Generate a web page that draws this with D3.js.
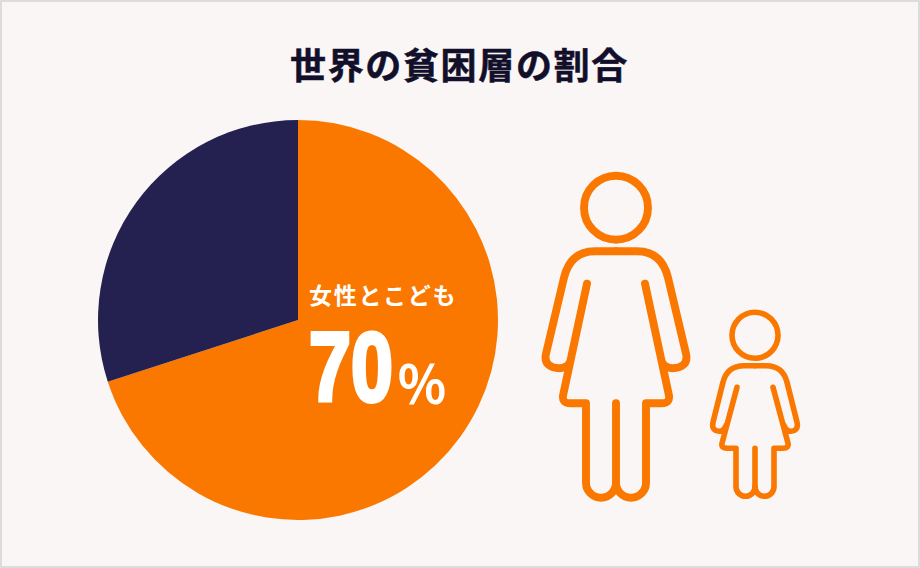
<!DOCTYPE html>
<html lang="ja">
<head>
<meta charset="utf-8">
<script src="https://cdn.jsdelivr.net/npm/d3@7"></script>
<style>
html,body{margin:0;padding:0;background:#faf6f5;}
svg{display:block;}
text{font-family:"Noto Sans CJK JP","Noto Sans",sans-serif;}
</style>
</head>
<body>
<script>
const titleText = "世界の貧困層の割合";
const categories = ["女性とこども", "その他"];
const shares = [70, 30];
const colors = ["#fa7800", "#24204f"];
const calloutNumber = "70";
const calloutUnit = "%";

const W = 920, H = 568;
const svg = d3.select("body").append("svg").attr("width", W).attr("height", H);

svg.append("rect").attr("x", 1).attr("y", 1).attr("width", W - 2).attr("height", H - 2)
  .attr("fill", "#faf6f5").attr("stroke", "#dcdcdc").attr("stroke-width", 2);

svg.append("text").attr("x", 290).attr("y", 79).attr("font-size", 36).attr("font-weight", 700)
  .attr("letter-spacing", 1.65).attr("fill", "#120f2b").attr("stroke", "#120f2b").attr("stroke-width", 0.5)
  .text(titleText);

const pie = d3.pie().sort(null).value(d => d)(shares);
const arc = d3.arc().innerRadius(0).outerRadius(200);
svg.append("g").attr("transform", "translate(298,320)")
  .selectAll("path").data(pie).join("path")
  .attr("d", arc).attr("fill", (d, i) => colors[i]);

svg.append("text").attr("x", 309).attr("y", 304).attr("font-size", 23).attr("font-weight", 700)
  .attr("letter-spacing", 1.7).attr("fill", "#fff").text(categories[0]);
svg.append("text").attr("transform", "translate(309,401) scale(0.77,1)")
  .style("font-family", '"Liberation Sans",sans-serif')
  .attr("font-size", 98).attr("font-weight", 700)
  .attr("fill", "#fff").attr("stroke", "#fff").attr("stroke-width", 4).text(calloutNumber);
svg.append("text").attr("x", 398).attr("y", 403).attr("font-size", 51).attr("font-weight", 500)
  .attr("fill", "#fff").attr("stroke", "#fff").attr("stroke-width", 1).text(calloutUnit);

// Person outline, drawn relative to the head centre; g holds the figure's proportions.
function person(cx, cy, sw, g) {
  const fig = svg.append("g").attr("transform", `translate(${cx},${cy})`)
    .attr("fill", "none").attr("stroke", colors[0]).attr("stroke-width", sw)
    .attr("stroke-linecap", "round").attr("stroke-linejoin", "round");
  fig.append("circle").attr("r", g.head);
  const slope = (g.armEnd[0] - g.armTop[0]) / (g.armEnd[1] - g.armTop[1]);
  const ctrlX = g.armTop[0] - (g.armTop[1] - g.shoulderY) * slope;
  const side = m => {
    const p = d3.path();
    const bx = g.armBottom[0], by = g.armBottom[1], ex = g.armEnd[0], ey = g.armEnd[1];
    const reach = (by - ey) * 0.75;
    p.moveTo(0, g.shoulderY);
    p.lineTo(m * g.shoulderHalf, g.shoulderY);
    p.quadraticCurveTo(m * ctrlX, g.shoulderY, m * g.armTop[0], g.armTop[1]);
    p.lineTo(m * ex, ey);
    p.bezierCurveTo(m * (ex + slope * reach), ey + reach, m * (bx + (ex - bx) * 0.55), by, m * bx, by);
    p.bezierCurveTo(m * (bx - (bx - g.armJoin[0]) * 0.6), by, m * (g.armJoin[0] + 1), g.armJoin[1] + 3, m * g.armJoin[0], g.armJoin[1]);
    p.moveTo(m * g.innerTop[0], g.innerTop[1]);
    p.lineTo(m * g.hemCorner[0], g.hemCorner[1]);
    p.quadraticCurveTo(m * (g.hemCorner[0] + 1), g.hemY, m * (g.hemCorner[0] - g.hemRound), g.hemY);
    p.lineTo(m * g.legX, g.hemY);
    p.lineTo(m * g.legX, g.legEnd);
    const r = g.legX / 2;
    p.arc(m * r, g.legEnd, r, m > 0 ? 0 : Math.PI, m > 0 ? Math.PI : 0, m < 0);
    return p.toString();
  };
  fig.append("path").attr("d", side(-1));
  fig.append("path").attr("d", side(1));
  fig.append("line").attr("x1", 0).attr("x2", 0).attr("y1", g.hemY).attr("y2", g.legEnd);
}
person(616, 207.7, 7.9, {
  head: 32, shoulderY: 43.5, shoulderHalf: 21, armTop: [52, 70], armEnd: [70, 146], armBottom: [57, 160.5],
  armJoin: [45.5, 153], innerTop: [29, 76], hemCorner: [53, 188], hemRound: 7, hemY: 195.5, legX: 30, legEnd: 275
});
person(755, 335.3, 5.6, {
  head: 23, shoulderY: 30.4, shoulderHalf: 11, armTop: [32, 47], armEnd: [42, 87], armBottom: [36, 96],
  armJoin: [29, 90], innerTop: [18, 52], hemCorner: [33, 108], hemRound: 5, hemY: 113, legX: 19, legEnd: 151.5
});
</script>
</body>
</html>
